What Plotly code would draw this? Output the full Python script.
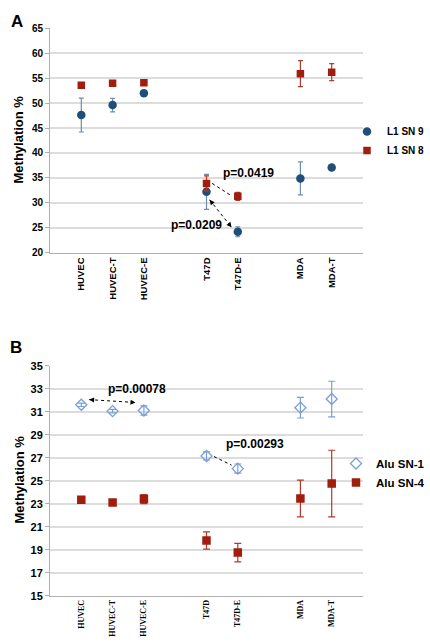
import plotly.graph_objects as go

# ---------------- data ----------------
categories = ["HUVEC", "HUVEC-T", "HUVEC-E", "T47D", "T47D-E", "MDA", "MDA-T"]
cat_pos = [1, 2, 3, 5, 6, 8, 9]

# Panel A
l1_sn9 = [47.6, 49.6, 52.0, 32.2, 24.2, 34.9, 37.1]
l1_sn9_err = [3.4, 1.35, 0.3, 3.5, 1.0, 3.3, 0.3]
l1_sn8 = [53.6, 54.0, 54.1, 33.9, 31.3, 55.9, 56.2]
l1_sn8_err = [0.3, 0.3, 0.3, 1.5, 0.8, 2.6, 1.7]

# Panel B
alu_sn1 = [31.6, 31.05, 31.1, 27.15, 26.05, 31.35, 32.1]
alu_sn1_err = [0.15, 0.15, 0.4, 0.35, 0.4, 0.9, 1.55]
alu_sn4 = [23.35, 23.1, 23.4, 19.8, 18.75, 23.45, 24.75]
alu_sn4_err = [0.2, 0.2, 0.4, 0.75, 0.8, 1.6, 2.9]

BLUE = "#1f4e79"
BLUE_ERR = "#6d8db3"
RED = "#a11d0e"
RED_ERR = "#b03a2c"
DIAM = "#7a9fd9"
GRID = "#dcdcdc"
AXIS = "#b0b0b0"
FONT = "Liberation Sans, Arial, sans-serif"

fig = go.Figure()

fig.add_trace(go.Scatter(
    x=cat_pos, y=l1_sn9, mode="markers", name="L1 SN 9",
    marker=dict(symbol="circle", size=8.5, color=BLUE),
    error_y=dict(type="data", array=l1_sn9_err, color=BLUE_ERR, thickness=1.2, width=2.5),
    xaxis="x", yaxis="y", legend="legend"))
fig.add_trace(go.Scatter(
    x=cat_pos, y=l1_sn8, mode="markers", name="L1 SN 8",
    marker=dict(symbol="square", size=7.5, color=RED),
    error_y=dict(type="data", array=l1_sn8_err, color=RED_ERR, thickness=1.2, width=2.5),
    xaxis="x", yaxis="y", legend="legend"))

fig.add_trace(go.Scatter(
    x=cat_pos, y=alu_sn1, mode="markers", name="Alu SN-1",
    marker=dict(symbol="diamond-open", size=8.5, color=DIAM, line=dict(width=1.3, color=DIAM)),
    error_y=dict(type="data", array=alu_sn1_err, color=DIAM, thickness=1.2, width=3.5),
    xaxis="x2", yaxis="y2", legend="legend2"))
fig.add_trace(go.Scatter(
    x=cat_pos, y=alu_sn4, mode="markers", name="Alu SN-4",
    marker=dict(symbol="square", size=8.5, color=RED),
    error_y=dict(type="data", array=alu_sn4_err, color=RED_ERR, thickness=1.2, width=3.5),
    xaxis="x2", yaxis="y2", legend="legend2"))

# ---------------- dotted double arrows ----------------
arrows = [
    ("x", "y", cat_pos[3] + 0.18, l1_sn8[3], cat_pos[4] - 0.2, l1_sn8[4] + 0.1),
    ("x", "y", cat_pos[3] + 0.1, l1_sn9[3] - 1.6, cat_pos[4] - 0.2, l1_sn9[4] + 0.9),
    ("x2", "y2", cat_pos[0] + 0.25, alu_sn1[0] + 0.45, cat_pos[2] - 0.27, alu_sn1[2] + 0.7),
    ("x2", "y2", cat_pos[3] + 0.24, alu_sn1[3] - 0.05, cat_pos[4] - 0.2, alu_sn1[4] + 0.3),
]
shapes = []
annotations = []
for xr, yr, x0, y0, x1, y1 in arrows:
    shapes.append(dict(type="line", xref=xr, yref=yr, x0=x0, y0=y0, x1=x1, y1=y1,
                       line=dict(color="black", width=1, dash="dot")))
    for (hx, hy, tx, ty) in [(x1, y1, x0, y0), (x0, y0, x1, y1)]:
        f = 0.12
        annotations.append(dict(xref=xr, yref=yr, axref=xr, ayref=yr,
                                x=hx, y=hy, ax=hx + (tx - hx) * f, ay=hy + (ty - hy) * f,
                                text="", showarrow=True, arrowhead=2, arrowsize=1,
                                arrowwidth=1, arrowcolor="black"))

pfont = dict(family=FONT, size=12, color="black", weight="bold")
for xr, yr, x, y, t in [("x", "y", 6.33, 35.9, "p=0.0419"),
                        ("x", "y", 4.68, 25.5, "p=0.0209"),
                        ("x2", "y2", 2.78, 32.95, "p=0.00078"),
                        ("x2", "y2", 6.54, 28.2, "p=0.00293")]:
    annotations.append(dict(xref=xr, yref=yr, x=x, y=y, text=t, showarrow=False, font=pfont))

W, H = 430, 643

# panel letters
for t, xp, yp in [("A", 9, 10), ("B", 8, 347)]:
    annotations.append(dict(xref="paper", yref="paper", x=xp / W, y=1 - yp / H, text=t,
                            showarrow=False, font=dict(family=FONT, size=17, color="black", weight="bold")))
# y-axis titles
for yp in [140, 480]:
    annotations.append(dict(xref="paper", yref="paper", x=18.5 / W, y=1 - yp / H, text="Methylation %",
                            textangle=-90, showarrow=False, xanchor="center", yanchor="middle",
                            font=dict(family=FONT, size=13, color="black", weight="bold")))

xdom = [50 / W, 363 / W]

common_x = dict(range=[0, 10], tickvals=cat_pos, ticktext=categories, tickangle=-90,
                showgrid=False, zeroline=False, showline=True, linecolor=AXIS, linewidth=1,
                ticks="", domain=xdom, automargin=False)
common_y = dict(showgrid=True, gridcolor=GRID, gridwidth=1.5, zeroline=False,
                showline=True, linecolor=AXIS, ticks="outside", ticklen=4, tickcolor=AXIS,
                automargin=False)

fig.update_layout(
    width=W, height=H, margin=dict(l=0, r=0, t=0, b=0, autoexpand=False),
    paper_bgcolor="white", plot_bgcolor="white",
    showlegend=True,
    xaxis=dict(**common_x, anchor="y", tickfont=dict(family=FONT, size=9.5, color="black", weight="bold")),
    yaxis=dict(**common_y, domain=[1 - 252.7 / H, 1 - 28.3 / H], range=[20, 65], tick0=20, dtick=5,
               anchor="x", tickfont=dict(family=FONT, size=10, color="black", weight="bold")),
    xaxis2=dict(**common_x, anchor="y2",
                tickfont=dict(family="Liberation Serif, Times New Roman, serif", size=8, color="black", weight="bold")),
    yaxis2=dict(**common_y, domain=[1 - 595.7 / H, 1 - 365.7 / H], range=[15, 35], tick0=15, dtick=2,
                anchor="x2", tickfont=dict(family=FONT, size=11, color="black", weight="bold")),
    legend=dict(x=1, y=1 - 141 / H, xanchor="right", yanchor="middle",
                font=dict(family=FONT, size=10, color="black", weight="bold"),
                bgcolor="rgba(0,0,0,0)", tracegroupgap=0, itemwidth=30),
    legend2=dict(x=1, y=1 - 473 / H, xanchor="right", yanchor="middle",
                 font=dict(family=FONT, size=11.5, color="black", weight="bold"),
                 bgcolor="rgba(0,0,0,0)", tracegroupgap=0, itemwidth=30),
    shapes=shapes, annotations=annotations,
)

fig.write_html("out.html", config={"displayModeBar": False},
               post_script="document.body.style.margin='0';document.body.style.padding='0';"
                           "document.documentElement.style.overflow='hidden';")
